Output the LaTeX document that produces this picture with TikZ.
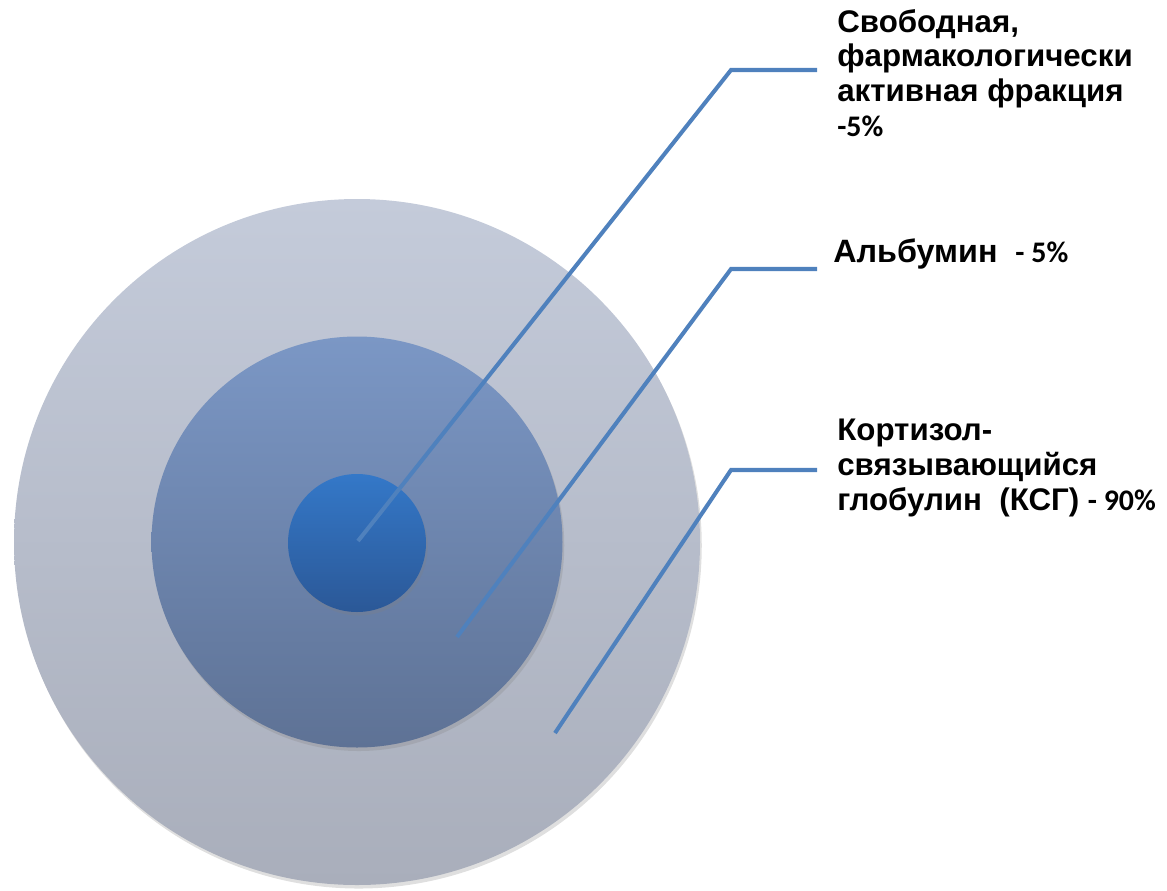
\documentclass[tikz,border=0pt]{standalone}
\usepackage{fontspec}
\setmainfont{Liberation Sans}
\newfontfamily\calfont{Carlito}
\usetikzlibrary{shadows}

\definecolor{ringtop}{HTML}{C4CBDA}
\definecolor{ringbot}{HTML}{A9AEBB}
\definecolor{midtop}{HTML}{7B97C5}
\definecolor{midbot}{HTML}{5E7295}
\definecolor{coretop}{HTML}{3478C8}
\definecolor{corebot}{HTML}{2B5897}
\definecolor{leader}{HTML}{4F81BD}

\newcommand{\pct}[1]{{\calfont\fontsize{17}{19.7}\selectfont #1}}

\begin{document}
\begin{tikzpicture}[x=0.02cm, y=-0.02cm]

        \tikzstyle{disc}=[circle, inner sep=0pt, draw=none,
                drop shadow={shadow xshift=1pt, shadow yshift=-2pt, opacity=0.25}]
        \tikzstyle{leadline}=[draw=leader, line width=2.3pt, line join=miter]
        \tikzstyle{caption}=[anchor=north west, inner sep=0pt, align=left,
                font=\bfseries\fontsize{17.8}{19.7}\selectfont]

        \useasboundingbox (0,0) rectangle (1167,890);

        \node[disc, minimum size=686*0.02cm, top color=ringtop, bottom color=ringbot] (globulin) at (357,542) {};
        \node[disc, minimum size=411*0.02cm, top color=midtop, bottom color=midbot] (albumin) at (357,542) {};
        \node[disc, minimum size=138*0.02cm, top color=coretop, bottom color=corebot] (free) at (357,543) {};

        \coordinate (p_1) at (358,541);
        \coordinate (k_1) at (731,70);
        \coordinate (e_1) at (817,70);
        \coordinate (p_2) at (457,637);
        \coordinate (k_2) at (731,269);
        \coordinate (e_2) at (817,269);
        \coordinate (p_3) at (555,733);
        \coordinate (k_3) at (731,470);
        \coordinate (e_3) at (817,470);

        \node[caption] (lbl_1) at (837,9) {Свободная,\\фармакологически\\активная фракция\\\pct{-5\%}};
        \node[caption, font=\bfseries\fontsize{18.4}{19.7}\selectfont] (lbl_2) at (833,238) {Альбумин \ \pct{- 5\%}};
        \node[caption] (lbl_3) at (837,419) {Кортизол-\\связывающийся\\глобулин \ (КСГ) \pct{- 90\%}};

        \path[leadline]
        (p_1) -- (k_1) -- (e_1)
        (p_2) -- (k_2) -- (e_2)
        (p_3) -- (k_3) -- (e_3);

\end{tikzpicture}
\end{document}
